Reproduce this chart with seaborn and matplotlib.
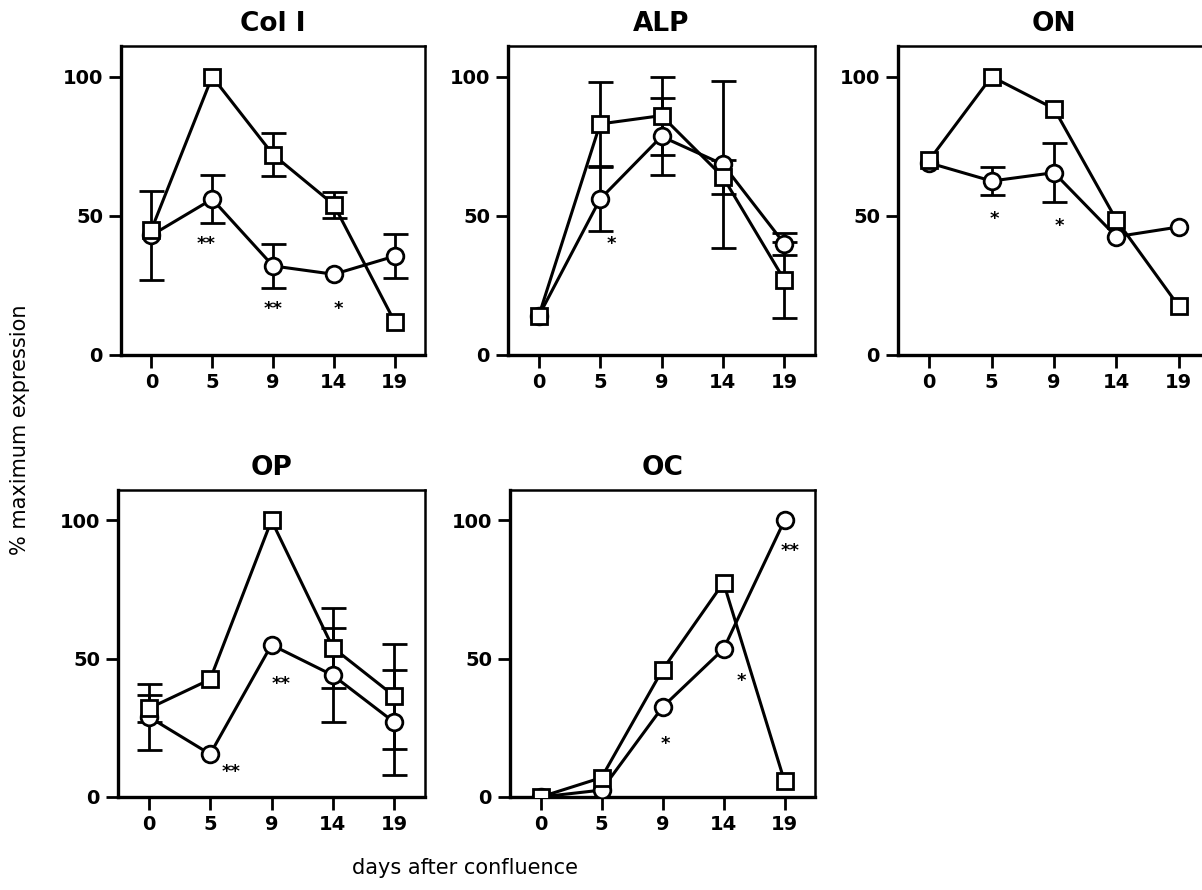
import numpy as np
import pandas as pd
import matplotlib
matplotlib.use('Agg')
import matplotlib.pyplot as plt
import seaborn as sns

days = [0, 5, 9, 14, 19]
panel_titles = ['Col I', 'ALP', 'ON', 'OP', 'OC']

# square series (value, error)
coli_sq = [45, 100, 72, 54, 12]
coli_sq_err = [0, 0, 7.7, 4.7, 0]
alp_sq = [14, 83, 86, 64, 27]
alp_sq_err = [0, 15, 14, 6, 13.6]
on_sq = [70, 100, 88.5, 48.5, 17.5]
on_sq_err = [0, 0, 0, 0, 0]
op_sq = [32, 42.5, 100, 54, 36.5]
op_sq_err = [5, 0, 0, 14.5, 19]
oc_sq = [0, 7, 46, 77.5, 5.7]
oc_sq_err = [0, 0, 0, 0, 0]

# circle series (value, error)
coli_ci = [43, 56, 32, 29, 35.5]
coli_ci_err = [16, 8.5, 8, 0, 8]
alp_ci = [14, 56, 78.5, 68.5, 40]
alp_ci_err = [0, 11.5, 14, 30, 4]
on_ci = [69, 62.5, 65.5, 42.5, 46]
on_ci_err = [0, 5, 10.5, 0, 0]
op_ci = [29, 15.5, 55, 44, 27]
op_ci_err = [12, 0, 0, 17, 19]
oc_ci = [0, 2.5, 32.5, 53.5, 100]
oc_ci_err = [0, 0, 0, 0, 0]

# significance marks: (day index, label, y)
coli_stars = [(1, '**', 40), (2, '**', 16.5), (3, '*', 16.5)]
alp_stars = [(1, '*', 40)]
on_stars = [(1, '*', 49), (2, '*', 46.5)]
op_stars = [(1, '**', 9), (2, '**', 41)]
oc_stars = [(2, '*', 19), (3, '*', 42), (4, '**', 89)]

squares = [coli_sq, alp_sq, on_sq, op_sq, oc_sq]
squares_err = [coli_sq_err, alp_sq_err, on_sq_err, op_sq_err, oc_sq_err]
circles = [coli_ci, alp_ci, on_ci, op_ci, oc_ci]
circles_err = [coli_ci_err, alp_ci_err, on_ci_err, op_ci_err, oc_ci_err]
stars = [coli_stars, alp_stars, on_stars, op_stars, oc_stars]
# small horizontal nudges for the star labels (in category units)
star_dx = [[-0.1, 0, 0.07], [0.18], [0.05, 0.08], [0.35, 0.15], [0.05, 0.3, 0.1]]

sns.set_style('ticks')
plt.rcParams['font.family'] = ['DejaVu Sans']
plt.rcParams['text.color'] = 'black'
plt.rcParams['axes.labelcolor'] = 'black'
plt.rcParams['xtick.color'] = 'black'
plt.rcParams['ytick.color'] = 'black'
plt.rcParams['xtick.labelcolor'] = 'black'
plt.rcParams['ytick.labelcolor'] = 'black'

fig = plt.figure(figsize=(12.02, 8.90), dpi=100)

W, H = 1202, 890
# pixel boxes (left, top, right, bottom)
boxes = [(121, 46, 425, 355), (508, 46, 815, 355), (898, 46, 1210, 355),
         (118, 490, 425, 797), (510, 490, 815, 797)]

pos = np.arange(len(days))

for i, (l, t, r, b) in enumerate(boxes):
    ax = fig.add_axes([l / W, 1 - b / H, (r - l) / W, (b - t) / H])
    sq_err = np.array(squares_err[i], dtype=float)
    ci_err = np.array(circles_err[i], dtype=float)

    ax.errorbar(pos, circles[i], yerr=np.where(ci_err > 0, ci_err, np.nan),
                fmt='none', ecolor='black', elinewidth=2, capsize=9, capthick=2, zorder=2)
    ax.errorbar(pos, squares[i], yerr=np.where(sq_err > 0, sq_err, np.nan),
                fmt='none', ecolor='black', elinewidth=2, capsize=9, capthick=2, zorder=2)

    sns.lineplot(x=pos, y=circles[i], ax=ax, color='black', linewidth=2.2,
                 marker='o', markersize=12, markerfacecolor='white',
                 markeredgecolor='black', markeredgewidth=2, zorder=3)
    sns.lineplot(x=pos, y=squares[i], ax=ax, color='black', linewidth=2.2,
                 marker='s', markersize=12, markerfacecolor='white',
                 markeredgecolor='black', markeredgewidth=2, zorder=4)

    for (k, lab, yv), dx in zip(stars[i], star_dx[i]):
        ax.text(pos[k] + dx, yv, lab, ha='center', va='center',
                fontsize=13, fontweight='bold', color='black')

    ax.set_xlim(-0.5, 4.5)
    ax.set_ylim(0, 111)
    ax.set_xticks(pos)
    ax.set_xticklabels([str(d) for d in days])
    ax.set_yticks([0, 50, 100])
    ax.tick_params(axis='both', direction='out', length=9, width=2,
                   labelsize=14, pad=4, color='black', labelcolor='black')
    for lab in ax.get_xticklabels() + ax.get_yticklabels():
        lab.set_fontweight('bold')
    for side in ['left', 'bottom']:
        ax.spines[side].set_linewidth(2.4)
    for side in ['top', 'right']:
        ax.spines[side].set_linewidth(1.8)
    for sp in ax.spines.values():
        sp.set_color('black')
    ax.set_title(panel_titles[i], fontsize=19, fontweight='bold', pad=11,
                 color='black')
    ax.set_xlabel('')
    ax.set_ylabel('')

fig.text(20 / W, 1 - 430 / H, '% maximum expression', rotation=90,
         ha='center', va='center', fontsize=15, color='black')
fig.text(465 / W, 1 - 868 / H, 'days after confluence',
         ha='center', va='center', fontsize=15, fontweight='medium',
         color='black')

fig.savefig('out.png', dpi=100, facecolor='white')
